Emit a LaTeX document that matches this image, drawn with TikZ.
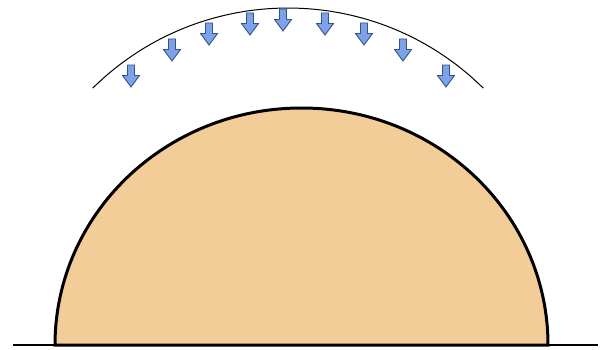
\documentclass[tikz,border=0pt]{standalone}
\usepackage{tikz}
\definecolor{cdome}{HTML}{F2CD98}
\definecolor{cblue}{HTML}{7DA2E8}
\definecolor{cdblue}{HTML}{34528F}
\tikzset{
  dome/.style={draw=black,line width=3pt,fill=cdome},
  downarr/.style={draw=cdblue,line width=0.9pt,fill=cblue,line join=miter},
}

\begin{document}
\begin{tikzpicture}[x=1pt,y=1pt]
\useasboundingbox (0,0) rectangle (600,349);

% ground and dome
\draw[dome] (55,4) arc[start angle=180,end angle=0,x radius=246.5,y radius=237] -- cycle;
\draw[line width=1.4pt] (13,4) -- (598,4);

% outer arc
\coordinate (c) at (288,63);
\draw[line width=1pt] (c) ++(134.6:278) arc[start angle=134.6,end angle=45.4,radius=278];

% load arrows
\foreach \x/\y in {131/284,172/310,209/326,250/336,283/340,325/336,364/326,403/310,446/284}{
  \draw[downarr] (\x,\y) +(-3.5,0) -- +(3.5,0) -- +(3.5,-10.5) -- +(8.5,-10.5)
      -- +(0,-22) -- +(-8.5,-10.5) -- +(-3.5,-10.5) -- cycle;
}

\end{tikzpicture}
\end{document}
